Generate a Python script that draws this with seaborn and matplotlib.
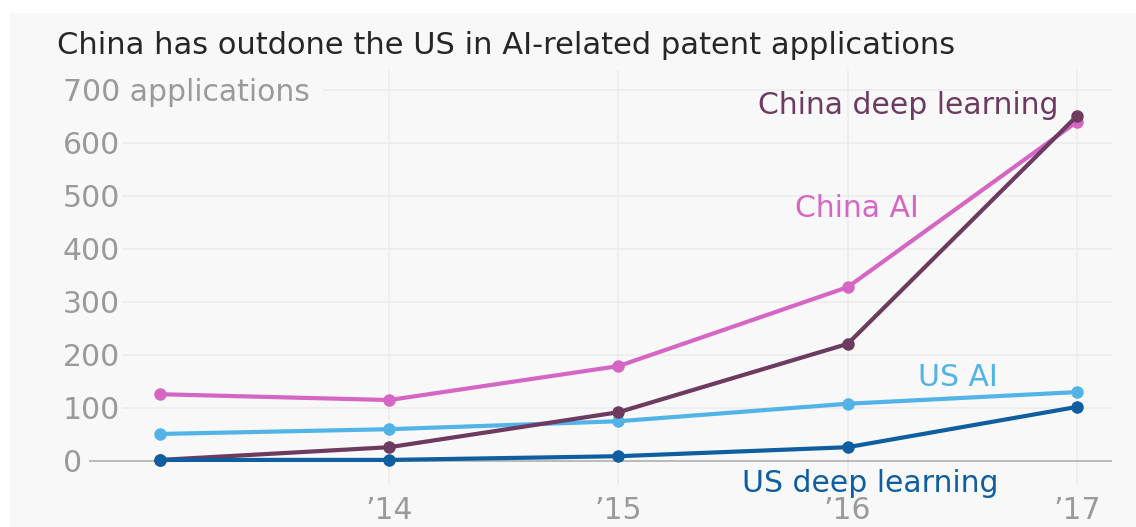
import pandas as pd
import matplotlib.pyplot as plt
import seaborn as sns
from matplotlib.patches import Rectangle

# Data
years = [2013, 2014, 2015, 2016, 2017]
china_ai = [126, 115, 179, 328, 640]
china_dl = [2, 26, 92, 221, 651]
us_ai = [51, 60, 75, 108, 130]
us_dl = [2, 2, 9, 26, 102]

series_names = ["US AI", "China AI", "China deep learning", "US deep learning"]
colors = ["#52b3e6", "#d566c3", "#6d3a60", "#0f5e9f"]
y_ticks = [0, 100, 200, 300, 400, 500, 600, 700]
y_labels = ["0", "100", "200", "300", "400", "500", "600", "700 applications"]
x_ticks = [2014, 2015, 2016, 2017]
x_labels = ["\u201914", "\u201915", "\u201916", "\u201917"]

df = pd.DataFrame({
    "year": years * 4,
    "apps": us_ai + china_ai + china_dl + us_dl,
    "series": sum([[n] * len(years) for n in series_names], []),
})

sns.set_style("white")
plt.rcParams["font.family"] = ["DejaVu Sans"]
FS = 21.5

W, H = 1136, 527
fig = plt.figure(figsize=(W / 100, H / 100), dpi=100, facecolor="white")
fig.patches.append(Rectangle((10 / W, 0), 1, 1 - 13 / H, transform=fig.transFigure,
                             facecolor="#f8f8f8", edgecolor="none", zorder=-10))

ax = fig.add_axes([60 / W, (H - 485) / H, (1112 - 60) / W, (485 - 70) / H])
ax.set_facecolor("none")

sns.lineplot(data=df, x="year", y="apps", hue="series", hue_order=series_names,
             palette=colors, marker="o", markersize=9, markeredgewidth=0,
             linewidth=3, legend=False, ax=ax, zorder=5)

ax.set_xlim(2012.564, 2017.153)
ax.set_ylim(-45.3, 737.7)

# gridlines, starting after the tick label text
grid_start = {0: 2012.69, 700: 2013.71}
for v in y_ticks:
    if v == 0:
        ax.hlines(v, grid_start[0], 2017.153, color="#b5b5b5", linewidth=1.3, zorder=2)
    else:
        ax.hlines(v, grid_start.get(v, 2012.835), 2017.153, color="#ececec", linewidth=1.2, zorder=1)
for x in x_ticks:
    ax.axvline(x, color="#ececec", linewidth=1.2, zorder=1)

ax.set_yticks(y_ticks)
ax.set_yticklabels(y_labels)
ax.tick_params(axis="y", length=0, pad=-2, labelsize=FS, labelcolor="#9a9a9a")
for lab in ax.get_yticklabels():
    lab.set_horizontalalignment("left")
ax.set_xticks(x_ticks)
ax.set_xticklabels(x_labels)
ax.tick_params(axis="x", length=0, pad=8, labelsize=FS, labelcolor="#9a9a9a")
ax.set_xlabel("")
ax.set_ylabel("")
for s in ax.spines.values():
    s.set_visible(False)

# direct labels
ax.text(2016.92, 670, "China deep learning", color=colors[2], fontsize=FS, ha="right", va="center")
ax.text(2016.04, 477, "China AI", color=colors[1], fontsize=FS, ha="center", va="center")
ax.text(2016.48, 158, "US AI", color=colors[0], fontsize=FS, ha="center", va="center")
ax.text(2016.10, -42, "US deep learning", color=colors[3], fontsize=FS, ha="center", va="center")

fig.text(57 / W, 1 - 45 / H, "China has outdone the US in AI-related patent applications",
         fontsize=22, color="#262626", ha="left", va="center")

fig.savefig("out.png", dpi=100, facecolor="white")
